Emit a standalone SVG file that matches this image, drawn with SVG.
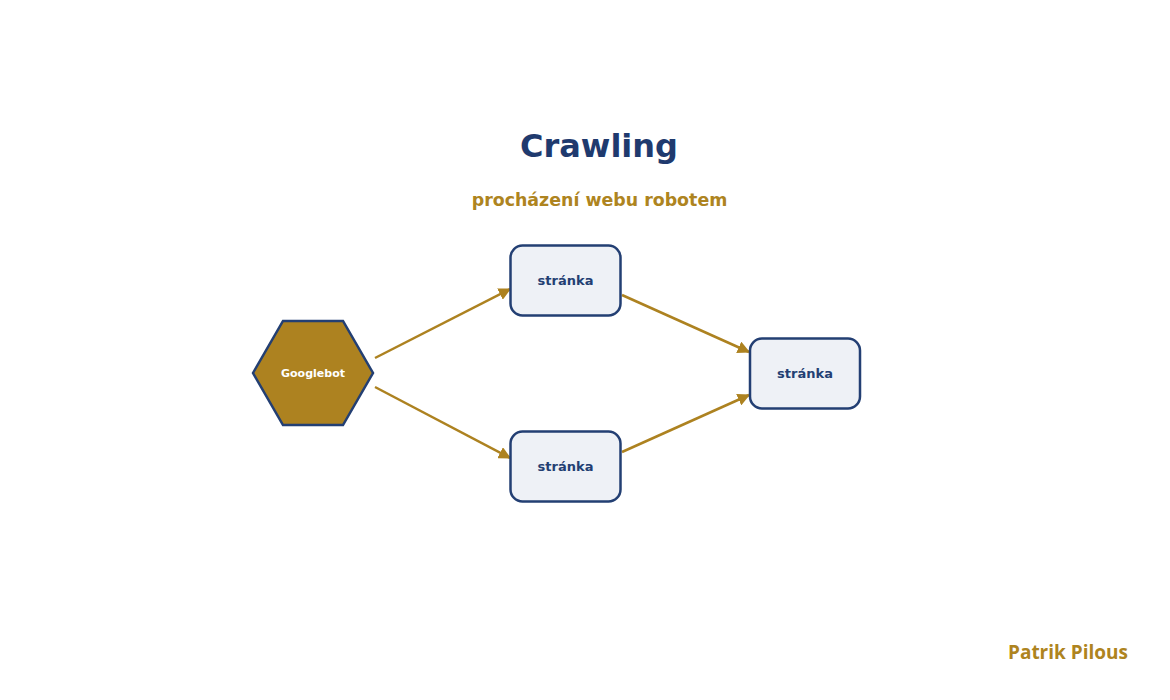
<svg xmlns="http://www.w3.org/2000/svg" width="1170" height="700" viewBox="0 0 1170 700">
<style>
.t{font-family:"DejaVu Sans","Liberation Sans",sans-serif;font-weight:bold;text-anchor:middle}
.box{fill:#eef1f6;stroke:#233f73;stroke-width:2.5}
.lbl{font-size:13px;fill:#233f73}
.edge{stroke:#ad8220;stroke-width:2.5;fill:none;marker-end:url(#ah)}
</style>
<defs>
<marker id="ah" viewBox="0 0 10 10" refX="9" refY="5" markerWidth="5" markerHeight="5" orient="auto" markerUnits="strokeWidth">
<path d="M0,0 L10,5 L0,10 z" fill="#ad8220"/>
</marker>
</defs>
<rect width="1170" height="700" fill="#ffffff"/>
<text class="t" x="599" y="157" font-size="32" fill="#1f3a6e">Crawling</text>
<text class="t" x="599.5" y="206" font-size="17.4" fill="#ae8420">procházení webu robotem</text>
<g id="connectors">
<line class="edge" x1="375" y1="358" x2="510" y2="289"/>
<line class="edge" x1="375" y1="387" x2="510" y2="458"/>
<line class="edge" x1="622" y1="295" x2="749" y2="352"/>
<line class="edge" x1="622" y1="452" x2="749" y2="395"/>
</g>
<g id="googlebot">
<polygon points="253,373 283,321 343,321 373,373 343,425 283,425" fill="#ad8220" stroke="#233f73" stroke-width="2.5"/>
<text class="t" x="313" y="377" font-size="11" fill="#ffffff">Googlebot</text>
</g>
<g id="page1">
<rect class="box" x="510.5" y="245.5" width="110" height="70" rx="12"/>
<text class="t lbl" x="565.5" y="284.5">stránka</text>
</g>
<g id="page2">
<rect class="box" x="510.5" y="431.5" width="110" height="70" rx="12"/>
<text class="t lbl" x="565.5" y="470.5">stránka</text>
</g>
<g id="page3">
<rect class="box" x="750" y="338.5" width="110" height="70" rx="12"/>
<text class="t lbl" x="805" y="377.5">stránka</text>
</g>
<text x="1128" y="659" font-family="'Open Sans',Inter,sans-serif" font-weight="bold" font-size="19" fill="#ae8420" text-anchor="end">Patrik Pilous</text>
</svg>
